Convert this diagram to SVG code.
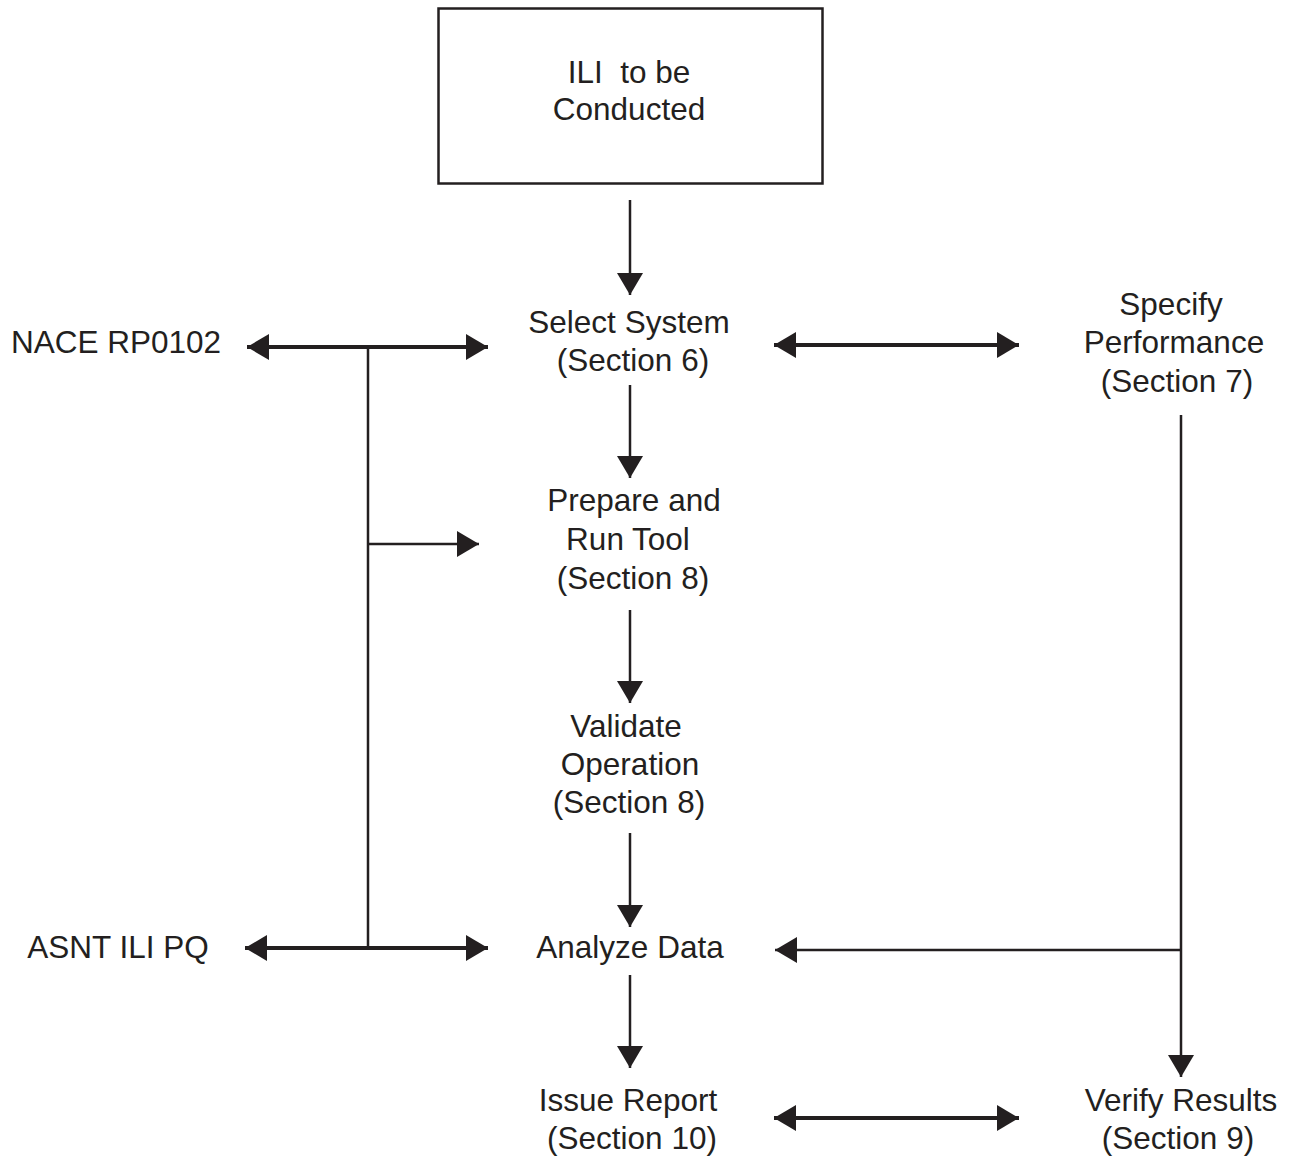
<svg xmlns="http://www.w3.org/2000/svg" width="1291" height="1158" viewBox="0 0 1291 1158">
<style>
text{font-family:"Liberation Sans",Arial,sans-serif;font-size:31.5px;fill:#231f20;text-anchor:middle}
.l{stroke:#231f20;fill:none;stroke-width:2.5}
.t{stroke:#231f20;fill:none;stroke-width:4}
</style>
<defs>
<marker id="ah" markerUnits="userSpaceOnUse" markerWidth="24" markerHeight="28" refX="22" refY="13" orient="auto-start-reverse" viewBox="0 0 24 26">
<path d="M0,0 L22,13 L0,26 Z" fill="#231f20"/>
</marker>
</defs>
<rect width="1291" height="1158" fill="#fff"/>
<g id="n-ili"><rect x="438.5" y="8.5" width="384" height="175" fill="#fff" stroke="#231f20" stroke-width="2.5"/><text x="629" y="83" xml:space="preserve" style="white-space:pre">ILI  to be</text><text x="629" y="120">Conducted</text></g>
<g id="n-select"><text x="629" y="333">Select System</text><text x="633" y="371">(Section 6)</text></g>
<g id="n-nace"><text x="116" y="353">NACE RP0102</text></g>
<g id="n-specify"><text x="1171" y="315">Specify</text><text x="1174" y="353">Performance</text><text x="1177" y="392">(Section 7)</text></g>
<g id="n-prepare"><text x="634" y="511">Prepare and</text><text x="628" y="550">Run Tool</text><text x="633" y="589">(Section 8)</text></g>
<g id="n-validate"><text x="626" y="737">Validate</text><text x="630" y="775">Operation</text><text x="629" y="813">(Section 8)</text></g>
<g id="n-asnt"><text x="118" y="958">ASNT ILI PQ</text></g>
<g id="n-analyze"><text x="630" y="958">Analyze Data</text></g>
<g id="n-issue"><text x="628" y="1111">Issue Report</text><text x="632" y="1149">(Section 10)</text></g>
<g id="n-verify"><text x="1181" y="1111">Verify Results</text><text x="1178" y="1149">(Section 9)</text></g>
<g id="connectors">
<line class="l" x1="630" y1="200" x2="630" y2="295" marker-end="url(#ah)"/>
<line class="l" x1="630" y1="385" x2="630" y2="478" marker-end="url(#ah)"/>
<line class="l" x1="630" y1="610" x2="630" y2="703" marker-end="url(#ah)"/>
<line class="l" x1="630" y1="833" x2="630" y2="927" marker-end="url(#ah)"/>
<line class="l" x1="630" y1="975" x2="630" y2="1068" marker-end="url(#ah)"/>
<line class="t" x1="247" y1="347" x2="488" y2="347" marker-start="url(#ah)" marker-end="url(#ah)"/>
<line class="l" x1="368" y1="347" x2="368" y2="948"/>
<line class="l" x1="368" y1="544" x2="479" y2="544" marker-end="url(#ah)"/>
<line class="t" x1="245" y1="948" x2="488" y2="948" marker-start="url(#ah)" marker-end="url(#ah)"/>
<line class="t" x1="774" y1="345" x2="1019" y2="345" marker-start="url(#ah)" marker-end="url(#ah)"/>
<line class="l" x1="1181" y1="415" x2="1181" y2="1077" marker-end="url(#ah)"/>
<line class="l" x1="1181" y1="950" x2="775" y2="950" marker-end="url(#ah)"/>
<line class="t" x1="774" y1="1118" x2="1019" y2="1118" marker-start="url(#ah)" marker-end="url(#ah)"/>
</g>
</svg>
